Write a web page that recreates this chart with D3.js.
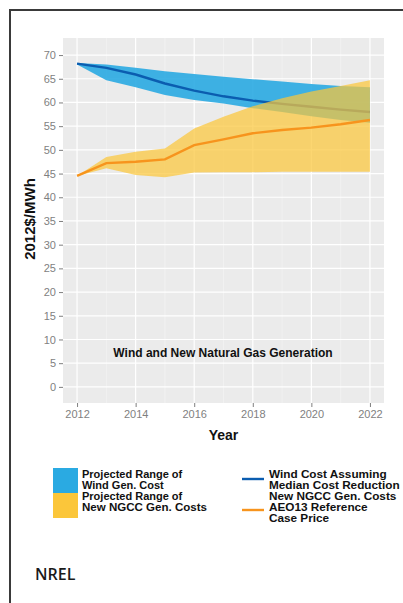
<!DOCTYPE html>
<html>
<head>
<meta charset="utf-8">
<script src="https://cdn.jsdelivr.net/npm/d3@7"></script>
<style>
  html, body { margin: 0; padding: 0; background: #fff; }
  svg { display: block; }
</style>
</head>
<body>
<svg id="chart" width="403" height="603"></svg>
<script>
// Projected cost ranges, $2012 per MWh
const years      = [2012, 2013, 2014, 2015, 2016, 2017, 2018, 2019, 2020, 2021, 2022];
const windHigh   = [68.3, 68.0, 67.3, 66.6, 66.0, 65.4, 64.9, 64.4, 63.9, 63.5, 63.2];
const windLow    = [68.0, 64.7, 63.2, 61.6, 60.5, 59.8, 58.8, 58.0, 57.1, 56.3, 55.7];
const windMedian = [68.2, 67.3, 65.9, 64.0, 62.5, 61.3, 60.4, 59.7, 59.1, 58.5, 58.0];
const gasHigh    = [44.5, 48.5, 49.6, 50.3, 54.5, 57.0, 59.2, 60.9, 62.3, 63.5, 64.7];
const gasLow     = [44.5, 46.1, 44.7, 44.2, 45.2, 45.3, 45.3, 45.4, 45.4, 45.4, 45.4];
const gasAEO13   = [44.5, 47.2, 47.5, 48.0, 51.0, 52.2, 53.5, 54.2, 54.7, 55.4, 56.3];
const yTicks     = [0, 5, 10, 15, 20, 25, 30, 35, 40, 45, 50, 55, 60, 65, 70];
const xTicks     = [2012, 2014, 2016, 2018, 2020, 2022];
const legendLeft  = [["Projected Range of", "Wind Gen. Cost"], ["Projected Range of", "New NGCC Gen. Costs"]];
const legendRight = ["Wind Cost Assuming", "Median Cost Reduction", "New NGCC Gen. Costs", "AEO13 Reference", "Case Price"];

const svg = d3.select("#chart");
const font = "Arial, 'Liberation Sans', sans-serif";

// outer frame
svg.append("path")
  .attr("d", "M10,603 V10 H403")
  .attr("fill", "none").attr("stroke", "#3a3a3a").attr("stroke-width", 2);

const panel = { left: 63, right: 384, top: 38, bottom: 403 };
const x = d3.scaleLinear().domain([2011.52, 2022.48]).range([panel.left, panel.right]);
const y = d3.scaleLinear().domain([-3.4, 73.6]).range([panel.bottom, panel.top]);

// panel background + grid
svg.append("rect")
  .attr("x", panel.left).attr("y", panel.top)
  .attr("width", panel.right - panel.left).attr("height", panel.bottom - panel.top)
  .attr("fill", "#ebebeb");

const grid = svg.append("g");
grid.selectAll(".minx").data(d3.range(2013, 2023, 2)).join("line")
  .attr("x1", d => x(d)).attr("x2", d => x(d))
  .attr("y1", panel.top).attr("y2", panel.bottom)
  .attr("stroke", "#f5f5f5").attr("stroke-width", 0.6);
grid.selectAll(".majx").data(xTicks).join("line")
  .attr("x1", d => x(d)).attr("x2", d => x(d))
  .attr("y1", panel.top).attr("y2", panel.bottom)
  .attr("stroke", "#fff").attr("stroke-width", 1.2);
grid.selectAll(".majy").data(yTicks).join("line")
  .attr("x1", panel.left).attr("x2", panel.right)
  .attr("y1", d => y(d)).attr("y2", d => y(d))
  .attr("stroke", "#fff").attr("stroke-width", 1.2);

// bands and lines
const area = (hi, lo) => d3.area()
  .x((d, i) => x(years[i]))
  .y0((d, i) => y(lo[i]))
  .y1((d, i) => y(hi[i]));
const line = vals => d3.line().x((d, i) => x(years[i])).y((d, i) => y(vals[i]));

svg.append("path").datum(years).attr("d", area(windHigh, windLow))
  .attr("fill", "#2aaae2").attr("fill-opacity", 0.9);
svg.append("path").datum(years).attr("d", line(windMedian))
  .attr("fill", "none").attr("stroke", "#0b5db0").attr("stroke-width", 2.4);
svg.append("path").datum(years).attr("d", area(gasHigh, gasLow))
  .attr("fill", "#fbc63a").attr("fill-opacity", 0.72);
svg.append("path").datum(years).attr("d", line(gasAEO13))
  .attr("fill", "none").attr("stroke", "#f7941d").attr("stroke-width", 2.4);

// axes
const yAxis = svg.append("g")
  .attr("transform", `translate(${panel.left},0)`)
  .call(d3.axisLeft(y).tickValues(yTicks).tickSize(4).tickPadding(3));
const xAxis = svg.append("g")
  .attr("transform", `translate(0,${panel.bottom})`)
  .call(d3.axisBottom(x).tickValues(xTicks).tickFormat(d3.format("d")).tickSize(4).tickPadding(3));
[yAxis, xAxis].forEach(a => {
  a.select(".domain").remove();
  a.selectAll(".tick line").attr("stroke", "#7f7f7f");
  a.selectAll(".tick text").attr("fill", "#7f7f7f")
    .style("font-family", font).style("font-size", "11px");
});

// axis titles
svg.append("text")
  .attr("x", (panel.left + panel.right) / 2).attr("y", 440)
  .attr("text-anchor", "middle")
  .style("font-family", font).style("font-size", "14px").style("font-weight", "bold")
  .attr("fill", "#111").text("Year");
svg.append("text")
  .attr("transform", "translate(35,219) rotate(-90)")
  .attr("text-anchor", "middle")
  .style("font-family", font).style("font-size", "15px").style("font-weight", "bold")
  .attr("fill", "#111").text("2012$/MWh");

svg.append("text")
  .attr("x", 223).attr("y", 357)
  .attr("text-anchor", "middle")
  .style("font-family", font).style("font-size", "12px").style("font-weight", "bold")
  .attr("fill", "#111").text("Wind and New Natural Gas Generation");

// legend
const lg = svg.append("g").style("font-family", font).style("font-size", "11px")
  .style("font-weight", "bold").attr("fill", "#111");
const swatchColors = ["#2aaae2", "#fbc63a"];
legendLeft.forEach((lines, i) => {
  lg.append("rect").attr("x", 53).attr("y", 468 + i * 25)
    .attr("width", 25).attr("height", 25).attr("fill", swatchColors[i]);
  lines.forEach((t, j) => {
    lg.append("text").attr("x", 82).attr("y", 477.5 + i * 22.5 + j * 11.3)
      .attr("textLength", t === "New NGCC Gen. Costs" ? 125 : null)
      .attr("lengthAdjust", "spacingAndGlyphs").text(t);
  });
});
const rightBase = [477.5, 488.6, 499.7, 510.8, 521.9];
legendRight.forEach((t, i) => {
  lg.append("text")
    .attr("transform", `translate(269,${rightBase[i]}) scale(1.07,1)`)
    .text(t);
});
lg.append("line").attr("x1", 242).attr("x2", 264).attr("y1", 479).attr("y2", 479)
  .attr("stroke", "#0b5db0").attr("stroke-width", 2.4);
lg.append("line").attr("x1", 242).attr("x2", 264).attr("y1", 510).attr("y2", 510)
  .attr("stroke", "#f7941d").attr("stroke-width", 2.4);

svg.append("text")
  .attr("x", 35).attr("y", 580)
  .style("font-family", "'Open Sans', sans-serif").style("font-size", "16px").style("font-weight", "600")
  .attr("fill", "#1a1a1a").text("NREL");
</script>
</body>
</html>
